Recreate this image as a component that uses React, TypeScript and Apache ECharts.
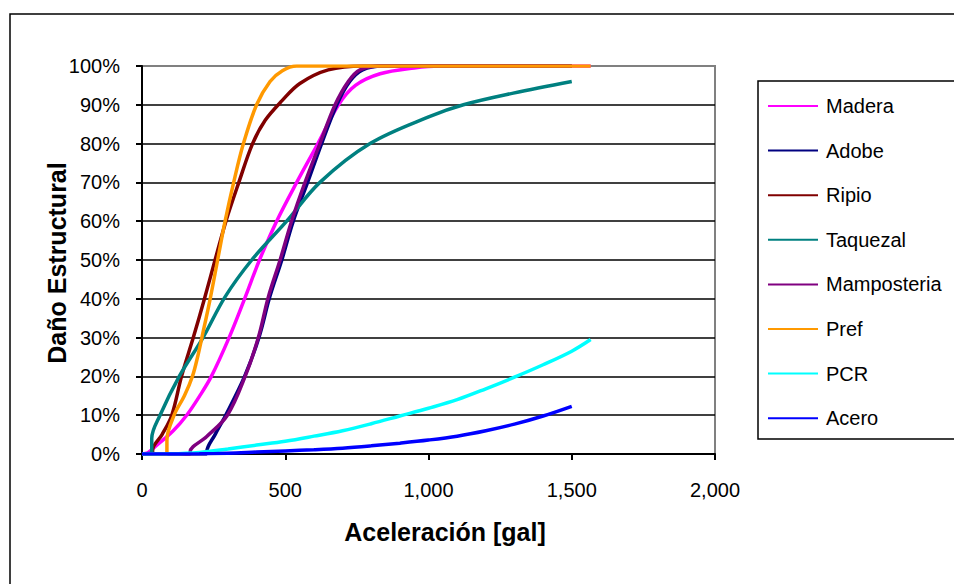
import React, { useEffect, useRef } from "react";
import * as echarts from "echarts";

const seriesNames = ["Madera", "Adobe", "Ripio", "Taquezal", "Mamposteria", "Pref", "PCR", "Acero"];
const seriesColors = ["#FF00FF", "#000080", "#800000", "#008080", "#800080", "#FF9900", "#00FFFF", "#0000FF"];

const xTicks = [0, 500, 1000, 1500, 2000];
const yTicks = [0, 10, 20, 30, 40, 50, 60, 70, 80, 90, 100];

const madera = [
  [0, 0], [20, 0.3], [40, 1.5], [109, 6], [156, 10], [200, 14.8], [242, 20], [304, 30], [358, 40],
  [410, 50], [470, 60], [540, 70], [614, 80], [686, 90], [745, 95], [831, 98], [950, 99.5], [1040, 100], [1566, 100],
];
const adobe = [
  [0, 0], [226, 0], [226, 0.5], [255, 5], [292, 10], [358, 20], [408, 30], [446, 40.5],
  [488, 50], [528, 60], [578, 70], [627, 80], [680, 90], [725, 96], [770, 99], [840, 100], [1500, 100],
];
const ripio = [
  [0, 0], [37, 0], [37, 1], [70, 5], [104, 10], [138, 20], [179, 30], [218, 40], [255, 50],
  [293, 60], [338, 70], [386, 80], [430, 86], [488, 91], [551, 95.5], [650, 99], [772, 100], [1500, 100],
];
const taquezal = [
  [0, 0], [34, 0.5], [34, 4], [63, 10], [130, 20], [213, 30], [290, 40.5], [383, 50], [505, 60],
  [621, 70], [796, 80], [1005, 87], [1122, 90], [1296, 93], [1500, 96],
];
const mamposteria = [
  [0, 0], [168, 0], [168, 0.6], [226, 4.5], [298, 10], [360, 20], [406, 30], [441, 40.5],
  [482, 50], [522, 60], [569, 70], [621, 80], [674, 90], [720, 96], [761, 99], [831, 100], [1500, 100],
];
const pref = [
  [0, 0], [87, 0], [87, 3.6], [112, 10], [148, 15], [176, 20], [194, 25], [209, 30], [238, 40], [264, 50], [290, 60],
  [320, 70], [354, 80], [400, 90], [447, 96], [490, 98.8], [540, 100], [1566, 100],
];
const pcr = [
  [0, 0], [100, 0.05], [200, 0.4], [300, 1.3], [400, 2.3], [500, 3.3], [600, 4.6], [700, 6], [800, 7.8],
  [900, 9.8], [1000, 11.8], [1100, 14], [1200, 16.8], [1300, 19.8], [1400, 23], [1500, 26.5], [1566, 29.5],
];
const acero = [
  [0, 0], [200, 0.05], [300, 0.2], [400, 0.5], [500, 0.8], [600, 1.1], [700, 1.5], [800, 2.1], [900, 2.8],
  [1000, 3.6], [1100, 4.6], [1200, 6], [1300, 7.7], [1400, 9.8], [1500, 12.3],
];

const seriesData = [madera, adobe, ripio, taquezal, mamposteria, pref, pcr, acero];

const FONT = "'Liberation Sans', Arial, sans-serif";

export default function App() {
  const ref = useRef<HTMLDivElement>(null);
  useEffect(() => {
    if (!ref.current) return;
    const chart = echarts.init(ref.current, null, { renderer: "svg" });
    chart.setOption({
      animation: false,
      backgroundColor: "#ffffff",
      grid: {
        left: 142, right: 239, top: 66, bottom: 130,
        show: true, borderColor: "#808080", borderWidth: 2, backgroundColor: "#ffffff",
      },
      xAxis: {
        type: "value", min: xTicks[0], max: xTicks[xTicks.length - 1], interval: 500,
        axisLine: { show: true, onZero: false, lineStyle: { color: "#000", width: 2 } },
        axisTick: { show: true, length: 6, lineStyle: { color: "#000", width: 2 } },
        axisLabel: {
          margin: 26, color: "#000", fontSize: 20, fontFamily: FONT,
          formatter: (v: number) => v.toLocaleString("en-US"),
        },
        splitLine: { show: false },
      },
      yAxis: {
        type: "value", min: yTicks[0], max: yTicks[yTicks.length - 1], interval: 10,
        axisLine: { show: true, lineStyle: { color: "#000", width: 2 } },
        axisTick: { show: true, length: 6, lineStyle: { color: "#000", width: 2 } },
        axisLabel: { margin: 22, color: "#000", fontSize: 20, fontFamily: FONT, formatter: "{value}%" },
        splitLine: { show: true, showMinLine: false, showMaxLine: false, lineStyle: { color: "#000", width: 1.5 } },
      },
      legend: {
        orient: "vertical", left: 763, top: 91, itemWidth: 50, itemHeight: 20, itemGap: 24.6,
        icon: "path://M0,0 L50,0 L50,2 L0,2 Z",
        textStyle: { color: "#000", fontSize: 20, fontFamily: FONT, lineHeight: 20, padding: [0, 0, 0, 3] },
        data: seriesNames,
      },
      graphic: [
        { type: "rect", shape: { x: 10, y: 14, width: 1000, height: 620 }, style: { fill: "none", stroke: "#000", lineWidth: 1.5 }, z: 100, silent: true },
        { type: "rect", shape: { x: 758, y: 81, width: 300, height: 358 }, style: { fill: "none", stroke: "#000", lineWidth: 1.5 }, z: 100, silent: true },
        {
          type: "text", x: 445, y: 532, z: 100,
          style: { text: "Aceleración [gal]", font: `bold 25px ${FONT}`, fill: "#000", textAlign: "center", textVerticalAlign: "middle" },
        },
        {
          type: "text", x: 57, y: 263, rotation: Math.PI / 2, z: 100,
          style: { text: "Daño Estructural", font: `bold 25px ${FONT}`, fill: "#000", textAlign: "center", textVerticalAlign: "middle" },
        },
      ],
      series: seriesNames.map((name, i) => ({
        name,
        type: "line",
        data: seriesData[i],
        symbol: "none",
        showSymbol: false,
        smooth: 0.35,
        color: seriesColors[i],
        lineStyle: { color: seriesColors[i], width: 3.5 },
        clip: true,
      })),
    });
    return () => chart.dispose();
  }, []);
  return <div ref={ref} style={{ width: 954, height: 584, position: "absolute", left: 0, top: 0 }} />;
}
